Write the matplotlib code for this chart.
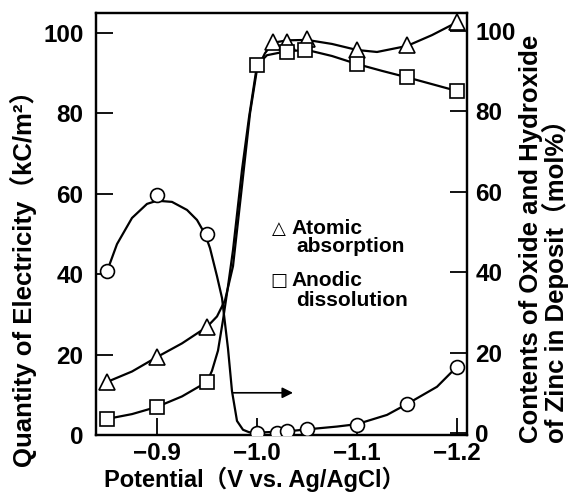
import numpy as np
import matplotlib
matplotlib.use("Agg")
import matplotlib.pyplot as plt

# full-width brackets come from the CJK font, the rest from Liberation Sans
plt.rcParams['font.family'] = ['Liberation Sans', 'Noto Sans CJK JP', 'DejaVu Sans']
plt.rcParams['font.weight'] = 'bold'

# ---- measured points ----
tri_x = [-0.85, -0.90, -0.95, -1.016, -1.03, -1.05, -1.10, -1.15, -1.20]
tri_y = [13.2, 19.4, 26.9, 97.8, 97.8, 98.5, 95.8, 97.0, 102.7]

sq_x = [-0.85, -0.90, -0.95, -1.00, -1.03, -1.048, -1.10, -1.15, -1.20]
sq_y = [4.0, 7.0, 13.2, 92.0, 95.3, 95.8, 92.3, 89.0, 85.6]

circ_x = [-0.85, -0.90, -0.95, -1.00, -1.02, -1.03, -1.05, -1.10, -1.15, -1.20]
circ_y = [40.2, 59.2, 49.5, 0.0, 0.0, 0.5, 1.0, 2.0, 7.2, 16.5]

# ---- hand-drawn guide curves ----
tri_curve_x = [-0.85, -0.875, -0.90, -0.925, -0.95, -0.96, -0.968, -0.976, -0.985,
               -0.993, -1.0, -1.008, -1.016, -1.03, -1.05, -1.075, -1.10, -1.12,
               -1.15, -1.175, -1.20]
tri_curve_y = [13.2, 15.8, 19.4, 22.8, 26.9, 29.5, 33.5, 42, 62,
               80, 91, 95, 97.6, 98.2, 98.3, 97.3, 95.8, 95.3,
               96.8, 99.5, 102.7]

sq_curve_x = [-0.85, -0.875, -0.90, -0.925, -0.95, -0.955, -0.961, -0.966, -0.971,
              -0.976, -0.985, -0.992, -1.00, -1.01, -1.03, -1.05, -1.075, -1.10,
              -1.125, -1.15, -1.175, -1.20]
sq_curve_y = [4.0, 5.2, 7.0, 9.6, 13.2, 16, 21, 28.6, 37,
              46, 66, 79, 92, 94.5, 95.5, 95.8, 94.3, 92.3,
              90.6, 89.0, 87.3, 85.6]

circ_curve_x = [-0.85, -0.86, -0.875, -0.89, -0.90, -0.915, -0.93, -0.94, -0.948,
                -0.953, -0.96, -0.965, -0.971, -0.975, -0.98, -0.986, -0.992,
                -1.00, -1.03, -1.05, -1.08, -1.10, -1.13, -1.15, -1.18, -1.20]
circ_curve_y = [40.2, 47, 53.5, 57, 57.8, 57.5, 55.5, 53, 49.5,
                46, 39, 33.6, 21, 10.4, 3, 0.8, 0.2,
                0.1, 0.4, 0.9, 1.6, 2.2, 4.5, 7.2, 11.5, 16.5]

xticks = [-0.9, -1.0, -1.1, -1.2]
yticks = [0, 20, 40, 60, 80, 100]

W, H = 582, 503


def fx(px):
    return px / W


def fy(py):
    return 1 - py / H


fig = plt.figure(figsize=(5.82, 5.03), dpi=100)
ax = fig.add_axes([fx(96), fy(435), (467 - 96) / W, (435 - 13) / H])
ax2 = ax.twinx()

lw = 1.6
ax.plot(tri_curve_x, tri_curve_y, color='black', lw=lw, zorder=2)
ax.plot(sq_curve_x, sq_curve_y, color='black', lw=lw, zorder=2)
ax.plot(tri_x, tri_y, linestyle='none', marker='^', ms=12, mfc='white',
        mec='black', mew=1.2, zorder=3)
ax.plot(sq_x, sq_y, linestyle='none', marker='s', ms=10.5, mfc='white',
        mec='black', mew=1.2, zorder=4)

ax2.plot(circ_curve_x, circ_curve_y, color='black', lw=lw, zorder=2)
ax2.plot(circ_x, circ_y, linestyle='none', marker='o', ms=10, mfc='white',
         mec='black', mew=1.2, zorder=3)
ax2.annotate('', xy=(-1.036, 10), xytext=(-0.976, 10),
             arrowprops=dict(arrowstyle='-|>', color='black', lw=1.2,
                             mutation_scale=16, shrinkA=0, shrinkB=0))

ax.set_xlim(-0.839, -1.21)
ax.set_ylim(0, 105)
ax2.set_ylim(-0.5, 104.5)

ax.set_xticks(xticks)
ax.set_xticklabels([f"{v:.1f}".replace('-', '\u2212') for v in xticks])
ax.set_yticks(yticks)
ax2.set_yticks(yticks)

for a in (ax, ax2):
    for s in a.spines.values():
        s.set_linewidth(1.6)
ax.tick_params(axis='both', direction='in', length=12, width=1.3,
               labelsize=17.5, top=False, right=False)
ax.tick_params(axis='y', pad=9)
ax.tick_params(axis='x', pad=5)
ax2.tick_params(axis='y', direction='in', length=12, width=1.3,
                labelsize=17.5, pad=6)

# legend drawn as text, as in the original figure
fig.text(fx(279), fy(229), '\u25b3', fontsize=13, ha='center', va='center',
         family='DejaVu Sans', weight='normal')
fig.text(fx(279), fy(281), '\u25a1', fontsize=13, ha='center', va='center',
         family='DejaVu Sans', weight='normal')
fig.text(fx(291), fy(228), 'Atomic', fontsize=15, ha='left', va='center')
fig.text(fx(296), fy(247), 'absorption', fontsize=15, ha='left', va='center')
fig.text(fx(291), fy(280), 'Anodic', fontsize=15, ha='left', va='center')
fig.text(fx(296), fy(300), 'dissolution', fontsize=15, ha='left', va='center')

fig.text(fx(255), fy(479), 'Potential\uff08V vs. Ag/AgCl\uff09', fontsize=17,
         ha='center', va='center')
fig.text(fx(23), fy(272), 'Quantity of Electricity\uff08kC/m²\uff09',
         fontsize=18.5, rotation=90, ha='center', va='center')
fig.text(fx(544), fy(443),
         'Contents of Oxide and Hydroxide\nof Zinc in Deposit\uff08mol%\uff09',
         fontsize=18.5, rotation=90, ha='center', va='bottom',
         multialignment='left', linespacing=0.95)

fig.savefig('out.png', dpi=100)
